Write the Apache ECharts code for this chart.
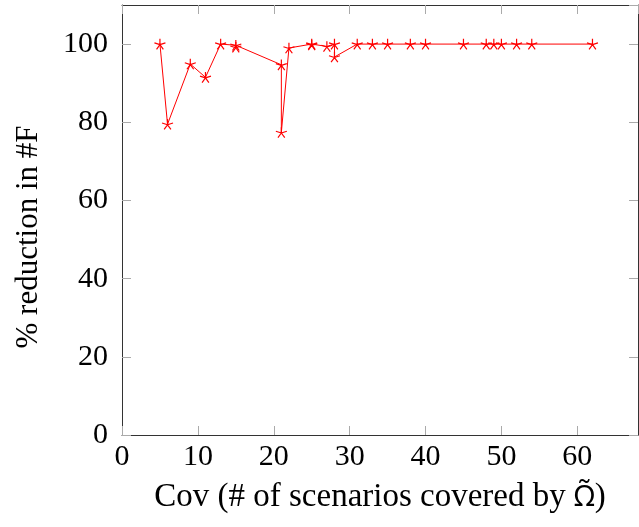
<!DOCTYPE html>
<html>
<head>
<meta charset="utf-8">
<script src="https://cdn.jsdelivr.net/npm/echarts@6/dist/echarts.min.js"></script>
<style>
html,body{margin:0;padding:0;background:#fff;}
#chart{width:639px;height:527px;}
</style>
</head>
<body>
<div id="chart"></div>
<script>
// Data
var covValues = [5, 6, 9, 11, 13, 15, 15, 21, 21, 22, 25, 25, 27, 28, 28, 31, 33, 35, 38, 40, 45, 48, 49, 50, 52, 54, 62];
var reductionValues = [100, 79.5, 94.9, 91.5, 100, 99.7, 99.2, 94.7, 77.4, 99.0, 100, 99.8, 99.4, 100, 96.7, 100, 100, 100, 100, 100, 100, 100, 100, 100, 100, 100, 100];
var xTickValues = [0, 10, 20, 30, 40, 50, 60];
var yTickValues = [0, 20, 40, 60, 80, 100];
var xAxisTitleParts = ['Cov (# of scenarios covered by ', '\u03A9\u0303', ')'];
var yAxisTitle = '% reduction in #F';

var seriesData = covValues.map(function (x, i) { return [x, reductionValues[i]]; });

var FONT = 'Liberation Serif';
var starPath = 'path://M0,-1L0,0M0.951,-0.309L0,0M0.588,0.809L0,0M-0.588,0.809L0,0M-0.951,-0.309L0,0';

var chart = echarts.init(document.getElementById('chart'), null, {renderer: 'canvas'});

function baseAxis(extra) {
  var a = {
    type: 'value',
    axisLine: {show: true, onZero: false, lineStyle: {color: '#333', width: 1}},
    axisTick: {show: true, inside: true, length: 9, lineStyle: {color: '#aaa', width: 1}},
    splitLine: {show: false},
    axisLabel: {show: false}
  };
  for (var k in extra) a[k] = extra[k];
  return a;
}

var option = {
  backgroundColor: '#fff',
  animation: false,
  grid: {left: 122, top: 5, right: 1, bottom: 92, containLabel: false},
  xAxis: [
    baseAxis({
      position: 'bottom', min: 0, max: 68, interval: 10,
      axisLabel: {show: true, margin: 7, fontFamily: FONT, fontSize: 30, color: '#000',
        showMaxLabel: false,
        formatter: function (v) { return xTickValues.indexOf(v) >= 0 ? String(v) : ''; }},
      name: '{a|' + xAxisTitleParts[0] + '}{b|' + xAxisTitleParts[1] + '}{a|' + xAxisTitleParts[2] + '}',
      nameLocation: 'middle', nameGap: 46,
      nameTextStyle: {fontFamily: FONT, fontSize: 33, color: '#000',
        rich: {
          a: {fontFamily: FONT, fontSize: 33, color: '#000'},
          b: {fontFamily: 'Noto Sans', fontSize: 29, color: '#000'}
        }}
    }),
    baseAxis({position: 'top', min: 0, max: 68, interval: 10})
  ],
  yAxis: [
    baseAxis({
      position: 'left', min: 0, max: 110, interval: 20,
      axisLabel: {show: true, margin: 14, fontFamily: FONT, fontSize: 30, color: '#000',
        showMaxLabel: false,
        formatter: function (v) { return yTickValues.indexOf(v) >= 0 ? String(v) : ''; }},
      name: yAxisTitle, nameLocation: 'middle', nameGap: 78,
      nameTextStyle: {fontFamily: FONT, fontSize: 31, color: '#000', padding: [0, 34, 0, 0]}
    }),
    baseAxis({position: 'right', min: 0, max: 110, interval: 20})
  ],
  series: [{
    type: 'line',
    xAxisIndex: 0,
    yAxisIndex: 0,
    data: seriesData,
    lineStyle: {color: '#ff0000', width: 1},
    itemStyle: {color: 'rgba(255,0,0,0)', borderColor: '#ff0000', borderWidth: 1.2},
    symbol: starPath,
    symbolSize: 11,
    symbolKeepAspect: true,
    showAllSymbol: true,
    emphasis: {disabled: true}
  }]
};
chart.setOption(option);
</script>
</body>
</html>
